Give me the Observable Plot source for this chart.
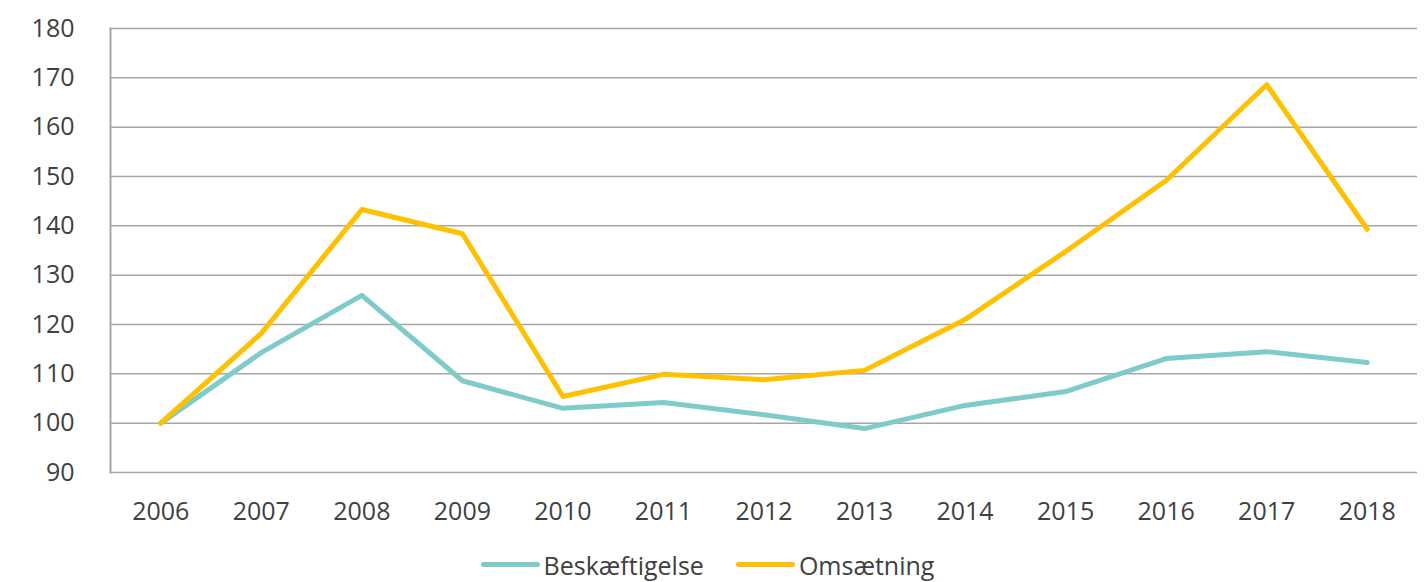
<!DOCTYPE html>
<html>
<head>
<meta charset="utf-8">
<script src="https://cdn.jsdelivr.net/npm/d3@7"></script>
<script src="https://cdn.jsdelivr.net/npm/@observablehq/plot@0.6"></script>
<style>
  html, body { margin: 0; padding: 0; background: #fff; }
  #chart { width: 1427px; }
  .legend { display: flex; justify-content: center; align-items: center; height: 47px; padding-top: 6px; padding-right: 12px;
    font-family: "Open Sans", sans-serif; font-size: 25px; color: #404040; box-sizing: content-box; width: 1415px; }
  .legend .item { display: flex; align-items: center; margin: 0 16px; }
  .legend .sw { display: inline-block; width: 59px; height: 5px; border-radius: 3px; margin-right: 4px; }
</style>
</head>
<body>
<div id="chart"></div>
<script>
const years = ["2006","2007","2008","2009","2010","2011","2012","2013","2014","2015","2016","2017","2018"];
const beskaeftigelse = [100, 114.3, 125.9, 108.6, 103.0, 104.2, 101.7, 98.9, 103.6, 106.4, 113.1, 114.5, 112.3];
const omsaetning = [100, 118.2, 143.3, 138.4, 105.4, 109.9, 108.8, 110.7, 121.0, 134.8, 149.2, 168.6, 139.3];
const seriesNames = ["Beskæftigelse", "Omsætning"];
const seriesColors = ["#7ECBC9", "#FFC000"];
const yTicks = [90, 100, 110, 120, 130, 140, 150, 160, 170, 180];

const data = [];
years.forEach((y, i) => {
  data.push({year: y, series: seriesNames[0], value: beskaeftigelse[i]});
  data.push({year: y, series: seriesNames[1], value: omsaetning[i]});
});

const chart = Plot.plot({
  width: 1427,
  height: 535,
  marginLeft: 110,
  marginRight: 10,
  marginTop: 28,
  marginBottom: 63,
  style: {fontFamily: "'Open Sans', sans-serif", fontSize: "25px", color: "#404040", background: "#fff"},
  x: {type: "point", domain: years, padding: 0.5, round: false},
  y: {domain: [90, 180]},
  color: {domain: seriesNames, range: seriesColors},
  marks: [
    Plot.ruleY(yTicks, {stroke: "#a6a6a6", strokeWidth: 1.5}),
    Plot.frame({anchor: "left", stroke: "#a6a6a6", strokeWidth: 2}),
    Plot.axisY(yTicks, {tickSize: 0, tickPadding: 36, label: null, fill: "#404040", fontSize: 25}),
    Plot.axisX({tickSize: 0, tickPadding: 30, label: null, fill: "#404040", fontSize: 25}),
    Plot.line(data, {x: "year", y: "value", stroke: "series", strokeWidth: 5, strokeLinejoin: "round", strokeLinecap: "round"})
  ]
});
document.getElementById("chart").appendChild(chart);

const legend = document.createElement("div");
legend.className = "legend";
seriesNames.forEach((n, i) => {
  const item = document.createElement("span");
  item.className = "item";
  const sw = document.createElement("span");
  sw.className = "sw";
  sw.style.background = seriesColors[i];
  item.appendChild(sw);
  item.appendChild(document.createTextNode(n));
  legend.appendChild(item);
});
document.body.appendChild(legend);
</script>
</body>
</html>
